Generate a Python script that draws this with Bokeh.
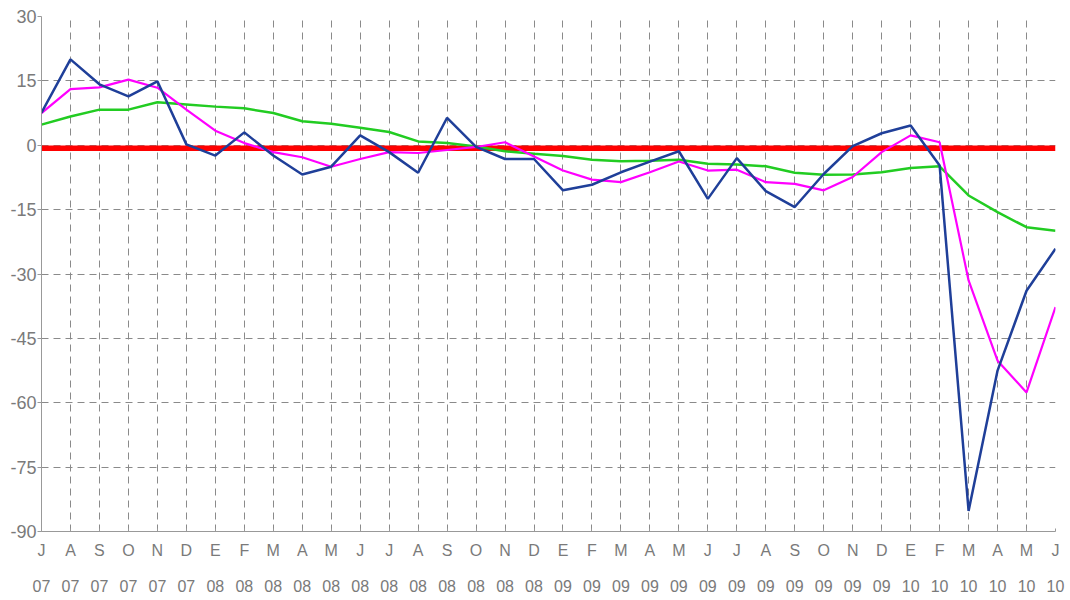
from bokeh.plotting import figure
from bokeh.models import FixedTicker, LinearAxis, Range1d
from bokeh.embed import file_html
from bokeh.resources import INLINE

months = ["J", "A", "S", "O", "N", "D",
          "E", "F", "M", "A", "M", "J", "J", "A", "S", "O", "N", "D",
          "E", "F", "M", "A", "M", "J", "J", "A", "S", "O", "N", "D",
          "E", "F", "M", "A", "M", "J"]
years = ["07"] * 6 + ["08"] * 12 + ["09"] * 12 + ["10"] * 6

blue = [7.6, 20.0, 14.2, 11.4, 14.9, 0.2, -2.4, 3.0, -2.4, -6.8, -5.0, 2.3,
        -1.6, -6.4, 6.4, -0.4, -3.2, -3.2, -10.5, -9.2, -6.3, -3.8, -1.4, -12.5,
        -3.0, -10.7, -14.4, -6.7, -0.2, 2.8, 4.6, -4.7, -85.2, -52.5, -33.9, -24.1]
magenta = [7.5, 13.1, 13.5, 15.3, 13.4, 8.3, 3.4, 0.5, -1.6, -2.8, -5.0, -3.2,
           -1.6, -1.8, -1.1, -0.4, 0.7, -2.6, -5.9, -8.0, -8.6, -6.3, -3.8, -5.9,
           -5.7, -8.6, -9.0, -10.5, -7.4, -1.6, 2.3, 0.7, -31.5, -50.2, -57.6, -37.7]
green = [4.8, 6.7, 8.3, 8.3, 10.0, 9.5, 9.0, 8.6, 7.5, 5.6, 5.0, 4.1,
         3.1, 0.9, 0.5, -0.3, -1.4, -2.0, -2.5, -3.4, -3.7, -3.6, -3.4, -4.3,
         -4.5, -4.9, -6.4, -6.9, -6.8, -6.3, -5.3, -4.9, -11.7, -15.6, -19.1, -19.9]
red = [-0.7] * 36

y_ticks = [-90, -75, -60, -45, -30, -15, 0, 15, 30]
y_labels = ["-90", "-75", "-60", "-45", "-30", "-15", "0", "15", "30"]

x = list(range(len(months)))

p = figure(width=1068, height=598, output_backend="svg", toolbar_location=None,
           x_range=Range1d(0, len(months) - 1), y_range=Range1d(-90, 30),
           min_border_left=41, min_border_top=16, min_border_right=13,
           min_border_bottom=67)
p.outline_line_color = None
p.background_fill_color = "white"

p.line(x, red, line_color="#ff0000", line_width=5.5)
p.line(x, green, line_color="#22cc22", line_width=2.5)
p.line(x, magenta, line_color="#ff00ff", line_width=2.2)
p.line(x, blue, line_color="#1f3f99", line_width=2.5)

font = "Liberation Sans"
gray = "#7a7a7a"

# y axis
p.yaxis.ticker = FixedTicker(ticks=y_ticks)
p.yaxis.major_label_overrides = {t: l for t, l in zip(y_ticks, y_labels)}
p.yaxis.major_label_text_font = font
p.yaxis.major_label_text_font_size = "18px"
p.yaxis.major_label_text_color = gray
p.yaxis.axis_line_color = "#999999"
p.yaxis.major_tick_line_color = "#999999"
p.yaxis.major_tick_out = 4
p.yaxis.major_tick_in = 0
p.yaxis.minor_tick_line_color = None
p.yaxis.major_label_standoff = 1

# x axis: month letters
p.xaxis.ticker = FixedTicker(ticks=x)
p.xaxis.major_label_overrides = {i: m for i, m in enumerate(months)}
p.xaxis.major_label_text_font = font
p.xaxis.major_label_text_font_size = "16px"
p.xaxis.major_label_text_color = gray
p.xaxis.axis_line_color = "#999999"
p.xaxis.major_tick_line_color = "#999999"
p.xaxis.major_tick_in = 3
p.xaxis.major_tick_out = 0
p.xaxis.minor_tick_line_color = None
p.xaxis.major_label_standoff = 10

# second x axis: years
yax = LinearAxis(ticker=FixedTicker(ticks=x),
                 major_label_overrides={i: yv for i, yv in enumerate(years)})
yax.major_label_text_font = font
yax.major_label_text_font_size = "16px"
yax.major_label_text_color = gray
yax.axis_line_color = None
yax.major_tick_line_color = None
yax.minor_tick_line_color = None
yax.major_label_standoff = 12
p.add_layout(yax, "below")

# grids
p.xgrid.ticker = FixedTicker(ticks=x)
p.ygrid.ticker = FixedTicker(ticks=y_ticks)
for g in (p.xgrid, p.ygrid):
    g.grid_line_color = "#8a8a8a"
    g.grid_line_dash = "7 5"
    g.grid_line_width = 1

open("out.html", "w").write(file_html(p, INLINE))
